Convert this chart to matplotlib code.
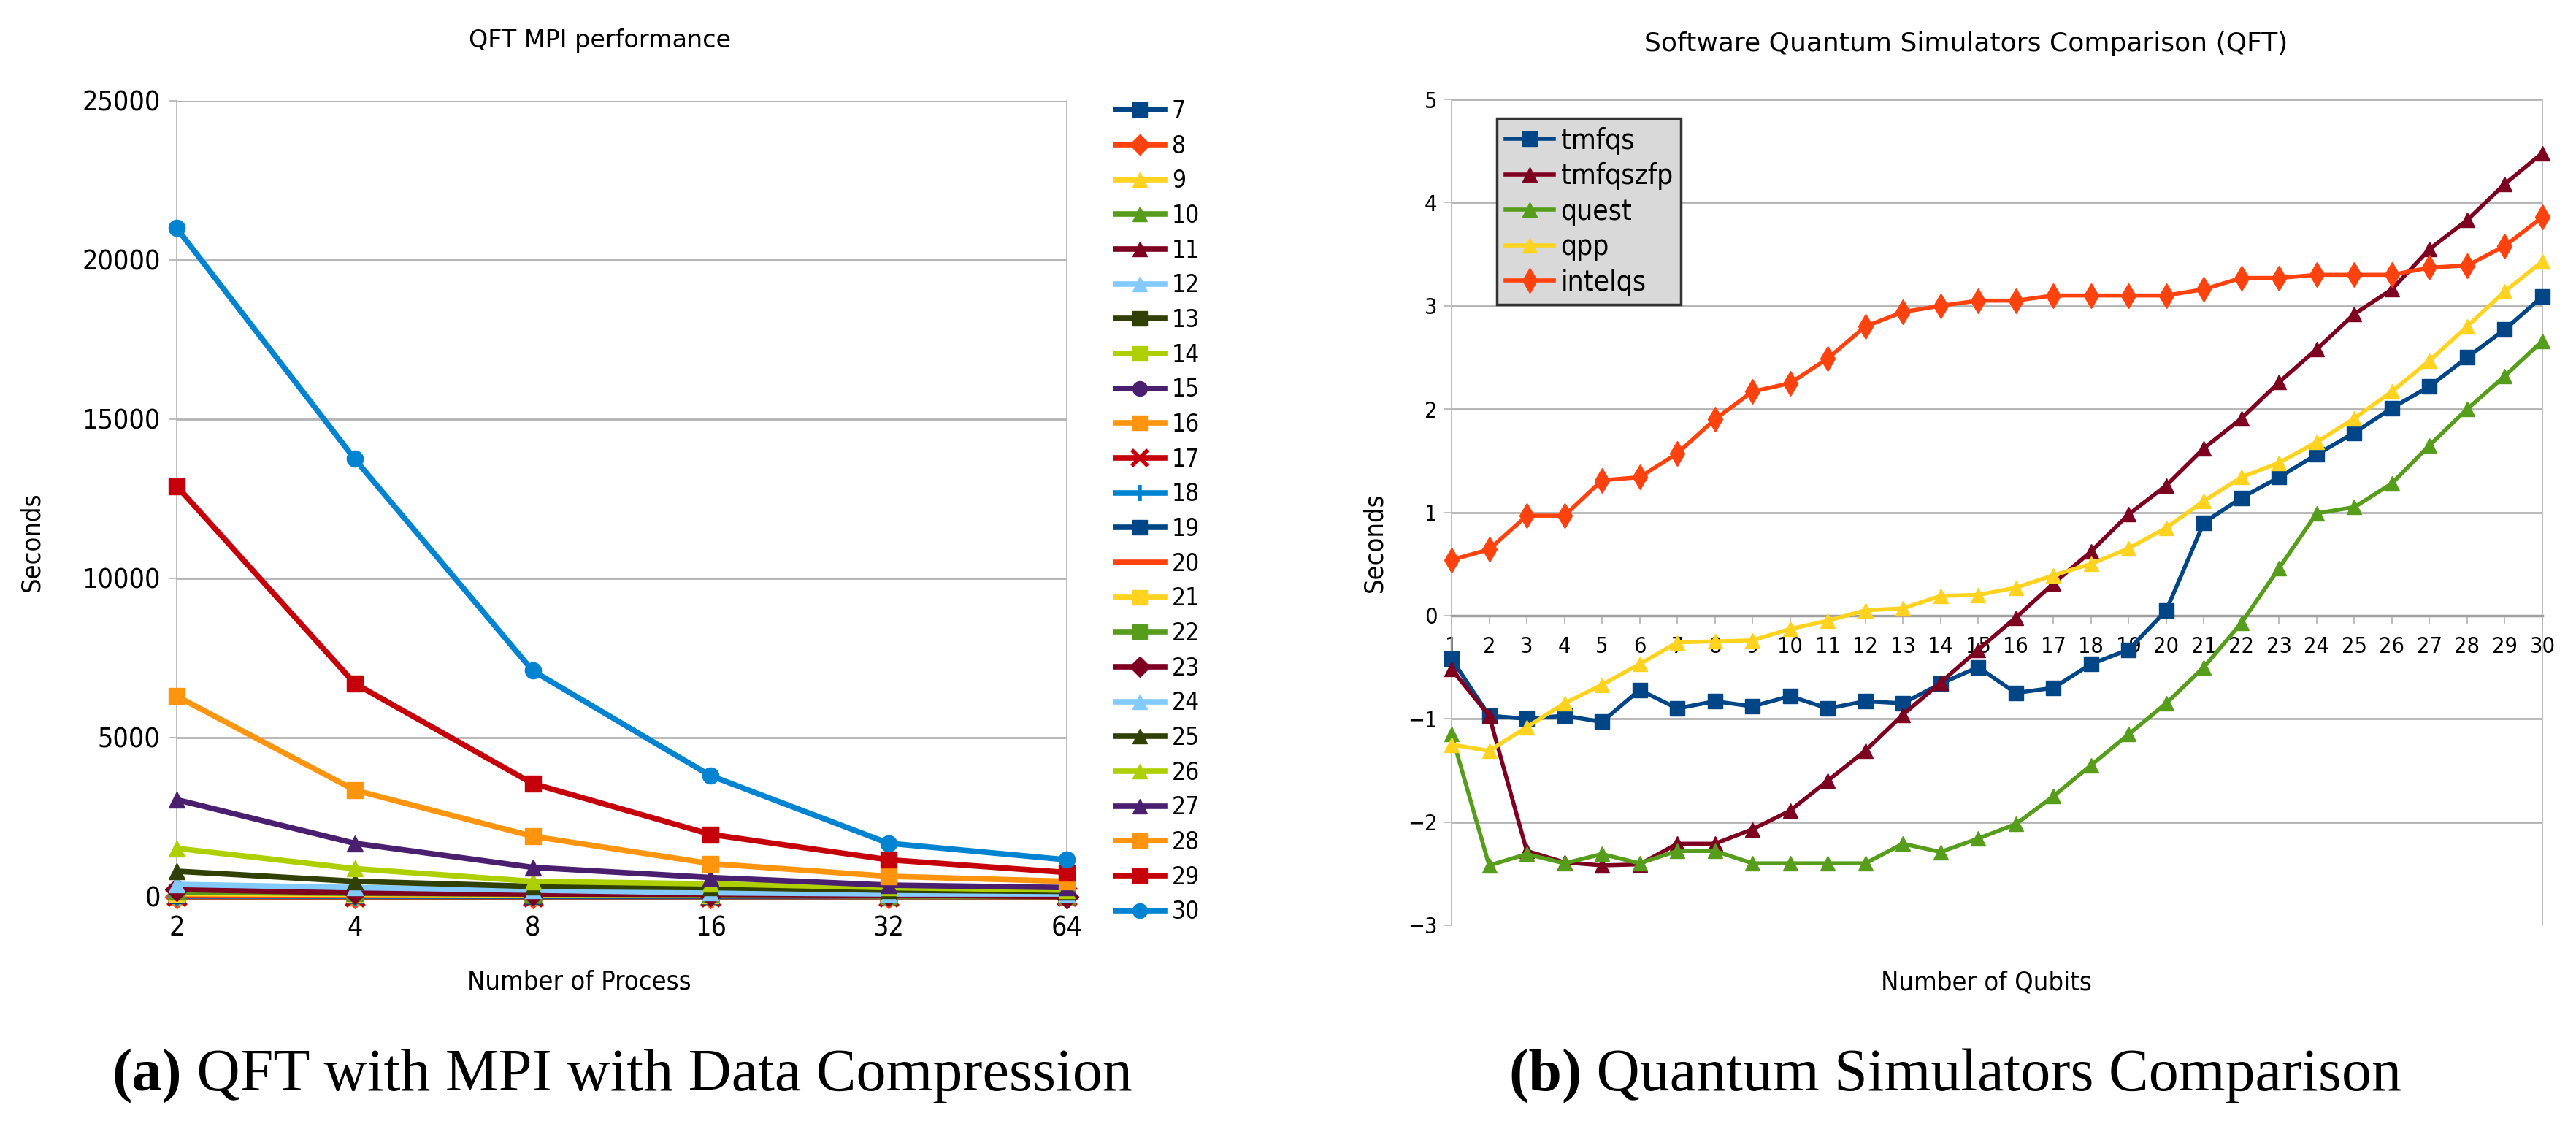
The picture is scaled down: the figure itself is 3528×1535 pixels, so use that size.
import matplotlib

matplotlib.use('Agg')
import matplotlib.pyplot as plt

plt.rcParams['font.family'] = ['DejaVu Sans']
plt.rcParams['font.stretch'] = 'condensed'

# ---- left chart data: seconds per number of MPI processes, one series per qubit count
processes = ['2', '4', '8', '16', '32', '64']
qubits_mpi = list(range(7, 31))
mpi_times = {
    7: [0.01, 0.01, 0.02, 0.03, 0.05, 0.1],
    8: [0.02, 0.02, 0.03, 0.05, 0.08, 0.2],
    9: [0.05, 0.04, 0.05, 0.08, 0.12, 0.3],
    10: [0.1, 0.08, 0.1, 0.15, 0.2, 0.5],
    11: [0.2, 0.15, 0.2, 0.3, 0.4, 0.8],
    12: [0.4, 0.3, 0.4, 0.5, 0.7, 1.2],
    13: [0.8, 0.6, 0.7, 0.9, 1.2, 2],
    14: [1.6, 1.2, 1.3, 1.6, 2, 3],
    15: [3, 2.4, 2.5, 3, 3.5, 5],
    16: [6, 5, 5, 5.5, 6, 8],
    17: [12, 9, 8, 9, 10, 12],
    18: [25, 18, 15, 14, 15, 18],
    19: [45, 35, 28, 25, 22, 25],
    20: [70, 55, 45, 38, 30, 30],
    21: [100, 80, 60, 55, 45, 20],
    22: [150, 110, 80, 70, 25, 15],
    23: [235, 127, 90, 80, 60, 10],
    24: [390, 290, 210, 127, 90, 90],
    25: [805, 486, 327, 290, 210, 170],
    26: [1521, 885, 486, 406, 290, 210],
    27: [3050, 1681, 925, 605, 366, 290],
    28: [6300, 3350, 1900, 1043, 645, 486],
    29: [12900, 6700, 3556, 1960, 1163, 765],
    30: [21000, 13750, 7100, 3800, 1681, 1163],
}

# ---- right chart data: log10(seconds) per qubit count and simulator
qubits = list(range(1, 31))
tmfqs = [-0.42, -0.97, -1.0, -0.97, -1.03, -0.72, -0.90, -0.83, -0.88, -0.78,
         -0.90, -0.83, -0.85, -0.66, -0.50, -0.75, -0.70, -0.47, -0.33, 0.05,
         0.90, 1.14, 1.34, 1.56, 1.77, 2.01, 2.22, 2.50, 2.77, 3.09]
tmfqszfp = [-0.52, -0.97, -2.28, -2.39, -2.42, -2.41, -2.21, -2.21, -2.07, -1.89,
            -1.60, -1.31, -0.96, -0.65, -0.33, -0.02, 0.31, 0.62, 0.98, 1.26,
            1.62, 1.91, 2.26, 2.58, 2.92, 3.16, 3.55, 3.83, 4.18, 4.48]
quest = [-1.15, -2.42, -2.31, -2.40, -2.31, -2.40, -2.28, -2.28, -2.40, -2.40,
         -2.40, -2.40, -2.21, -2.29, -2.16, -2.02, -1.75, -1.45, -1.15, -0.85,
         -0.50, -0.07, 0.46, 0.99, 1.05, 1.28, 1.65, 2.00, 2.32, 2.66]
qpp = [-1.25, -1.31, -1.08, -0.85, -0.67, -0.47, -0.26, -0.25, -0.24, -0.13,
       -0.05, 0.05, 0.07, 0.19, 0.20, 0.27, 0.39, 0.50, 0.65, 0.85,
       1.11, 1.34, 1.48, 1.68, 1.91, 2.17, 2.47, 2.80, 3.14, 3.43]
intelqs = [0.54, 0.64, 0.967, 0.967, 1.31, 1.34, 1.57, 1.90, 2.17, 2.25,
           2.49, 2.80, 2.94, 3.00, 3.05, 3.05, 3.10, 3.10, 3.10, 3.10,
           3.16, 3.27, 3.27, 3.30, 3.30, 3.30, 3.37, 3.39, 3.58, 3.86]

palette = ['#004586', '#ff420e', '#ffd320', '#579d1c', '#7e0021', '#83caff',
           '#314004', '#aecf00', '#4b1f6f', '#ff950e', '#c5000b', '#0084d1']
mpi_markers = {7: 's', 8: 'D', 9: '^', 10: '^', 11: '^', 12: '^', 13: 's', 14: 's',
               15: 'o', 16: 's', 17: 'x', 18: '+', 19: 's', 20: '', 21: 's', 22: 's',
               23: 'D', 24: '^', 25: '^', 26: '^', 27: '^', 28: 's', 29: 's', 30: 'o'}

GRID = '#b3b3b3'
W, H = 3528, 1535
fig = plt.figure(figsize=(W / 100, H / 100), dpi=100)


def px_axes(x0, y0, x1, y1):
    return fig.add_axes([x0 / W, 1 - y1 / H, (x1 - x0) / W, (y1 - y0) / H])


# ---------------- left: QFT MPI performance ----------------
ax1 = px_axes(242, 138, 1461, 1228)
xs = list(range(len(processes)))
for i, q in enumerate(qubits_mpi):
    m = mpi_markers[q]
    ax1.plot(xs, mpi_times[q], color=palette[i % 12], lw=5.5,
             marker=m if m else None, markersize=16 if m not in ('x', '+') else 18,
             markeredgewidth=4 if m in ('x', '+') else 1,
             label=str(q), clip_on=False, zorder=3)
ax1.set_xlim(0, 5)
ax1.set_ylim(0, 25000)
ax1.set_xticks(xs)
ax1.set_xticklabels(processes)
ax1.set_yticks(range(0, 25001, 5000))
ax1.yaxis.grid(True, color=GRID, lw=2)
ax1.set_axisbelow(True)
for s in ('top', 'bottom'):
    ax1.spines[s].set_visible(False)
for s in ('left', 'right'):
    ax1.spines[s].set_color(GRID)
    ax1.spines[s].set_linewidth(1.2)
ax1.tick_params(axis='y', length=8, width=1.2, color=GRID, pad=8, labelsize=27)
ax1.tick_params(axis='x', length=6, width=1.2, color=GRID, pad=12, labelsize=27)
ax1.set_ylabel('Seconds', fontsize=26)
ax1.yaxis.set_label_coords(-0.149, 0.446)
ax1.set_xlabel('Number of Process', fontsize=26)
ax1.xaxis.set_label_coords(0.452, -0.091)
fig.text(822 / W, 1 - 55 / H, 'QFT MPI performance', ha='center', va='center',
         fontsize=24, fontstretch='normal')

leg1 = ax1.legend(loc='upper left', bbox_to_anchor=(1528 / W, 1 - 136 / H),
                  bbox_transform=fig.transFigure, frameon=False, fontsize=24,
                  borderaxespad=0, borderpad=0, handlelength=2.0,
                  handletextpad=0.3, labelspacing=0.44, markerscale=0.9)

# ---------------- right: simulators comparison ----------------
ax2 = px_axes(1988, 136, 3482, 1267)
series = [('tmfqs', tmfqs, '#004586', 's', 15),
          ('tmfqszfp', tmfqszfp, '#7e0021', '^', 15),
          ('quest', quest, '#579d1c', '^', 15),
          ('qpp', qpp, '#ffd320', '^', 15),
          ('intelqs', intelqs, '#ff420e', 'd', 17)]
for name, vals, col, mk, ms in series:
    ax2.plot(qubits, vals, color=col, lw=4, marker=mk, markersize=ms,
             label=name, clip_on=False, zorder=3)
ax2.set_xlim(1, 30)
ax2.set_ylim(-3, 5)
ax2.set_xticks(qubits)
ax2.set_yticks(range(-3, 6))
ax2.yaxis.grid(True, color=GRID, lw=2)
ax2.set_axisbelow(True)
ax2.spines['top'].set_visible(False)
ax2.spines['bottom'].set_position(('data', 0))
ax2.spines['bottom'].set_color('#a0a0a0')
ax2.spines['bottom'].set_linewidth(2.5)
for s in ('left', 'right'):
    ax2.spines[s].set_color(GRID)
    ax2.spines[s].set_linewidth(1.2)
ax2.tick_params(axis='y', length=7, width=1.2, color=GRID, pad=7, labelsize=22)
ax2.tick_params(axis='x', length=8, width=1.2, color=GRID, pad=12, labelsize=22)
ax2.set_ylabel('Seconds', fontsize=26)
ax2.yaxis.set_label_coords(-0.059, 0.464)
ax2.set_xlabel('Number of Qubits', fontsize=26)
ax2.xaxis.set_label_coords(0.49, -0.054)
fig.text(2693 / W, 1 - 60 / H, 'Software Quantum Simulators Comparison (QFT)',
         ha='center', va='center', fontsize=26, fontstretch='normal')

leg2 = ax2.legend(loc='upper left', bbox_to_anchor=(0.0415, 0.977), fontsize=28,
                  facecolor='#d9d9d9', edgecolor='#333333', framealpha=1,
                  fancybox=False, borderaxespad=0, borderpad=0.3,
                  handlelength=1.7, handletextpad=0.25, labelspacing=0.27)
leg2.get_frame().set_linewidth(2.5)

# ---------------- captions ----------------
for x0, tag, rest in [(153, '(a)', ' QFT with MPI with Data Compression'),
                      (2066, '(b)', ' Quantum Simulators Comparison')]:
    t = fig.text(x0 / W, 1 - 1493 / H, tag, fontsize=59, fontweight='bold',
                 family='Liberation Serif', ha='left', va='baseline')
    ax1.annotate(rest, xy=(1, 0), xycoords=t, fontsize=59, family='Liberation Serif',
                 ha='left', va='bottom', annotation_clip=False)

fig.savefig('out.png', dpi=100)
